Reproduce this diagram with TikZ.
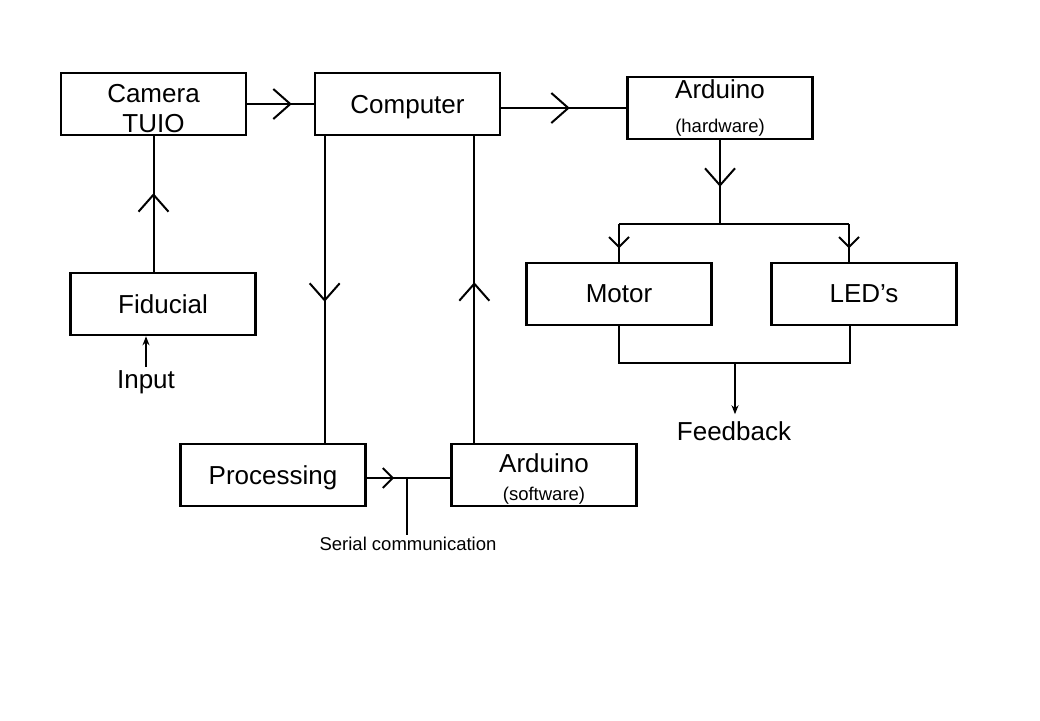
\documentclass[tikz,border=0pt]{standalone}
\usepackage{fontspec}
\setmainfont{Liberation Sans}
\usetikzlibrary{decorations.markings,arrows.meta}
\newcommand{\bigtxt}{\fontsize{26}{30}\selectfont}
\newcommand{\smalltxt}{\fontsize{18.5}{22}\selectfont}
\tikzset{
  box/.style={draw, line width=2.6pt, minimum width=185pt, minimum height=62pt, inner sep=0pt, align=center, font=\bigtxt},
  conn/.style={line width=2pt},
  vmark/.style={postaction={decorate},decoration={markings,mark=at position #1pt with {\draw[line width=2pt] (-17pt,-15pt) -- (0pt,0pt) -- (-17pt,15pt);}}},
  vsmall/.style={postaction={decorate},decoration={markings,mark=at position #1pt with {\draw[line width=2pt] (-10pt,-10pt) -- (0pt,0pt) -- (-10pt,10pt);}}},
  lbl/.style={inner sep=0pt, font=\bigtxt},
  slbl/.style={inner sep=0pt, font=\smalltxt},
  tip/.style={-{Stealth[length=9pt,width=7pt]}, line width=1.6pt}
}
\begin{document}
\begin{tikzpicture}[x=1pt,y=-1pt]
\useasboundingbox (0,0) rectangle (1040,720);
\fill[white] (0,0) rectangle (1040,720);
% boxes
\node[box] (cam) at (153.5,104) {\rule{0pt}{28pt}Camera\\[0pt]TUIO};
\node[box, text depth=0pt] (comp) at (407.5,104) {Computer};
\node[box] (ahw) at (720,108) {Arduino\\[4pt]{\smalltxt(hardware)}};
\node[box] (fid) at (163,304) {Fiducial};
\node[box] (motor) at (619,294) {Motor};
\node[box] (led) at (864,294) {LED’s};
\node[box, text depth=0pt] (proc) at (273,475) {Processing};
\node[box] (asw) at (544,475) {\rule{0pt}{26pt}Arduino\\[-2pt]{\smalltxt(software)}};
% labels
\node[lbl] (input) at (146,382) {Input};
\node[lbl] (feedback) at (734,431) {Feedback};
\node[slbl] (serial) at (408,544) {Serial communication};
% coordinates
\coordinate (j1) at (720,224);
\coordinate (jm) at (619,224);
\coordinate (jl) at (849,224);
\coordinate (fm) at (619,363);
\coordinate (fl) at (850,363);
\coordinate (fj) at (735,363);
\coordinate (sc) at (407,478);
% connectors
\draw[conn, vmark=43] (cam.east) -- (comp.west);
\draw[conn, vmark=67] (ahw.west -| comp.east) -- (ahw.west);
\draw[conn, vmark=45] (ahw.south) -- (j1);
\draw[conn] (jm) -- (jl);
\draw[conn, vsmall=23] (jm) -- (motor.north);
\draw[conn, vsmall=23] (jl) -- (jl |- led.north);
\draw[conn, vmark=77] (fid.north -| cam.south) -- (cam.south);
\draw[conn, vmark=164] ([xshift=11pt]comp.south west) -- ([xshift=11pt]comp.south west |- proc.north);
\draw[conn, vmark=159] ([xshift=-27pt]comp.south east |- asw.north) -- ([xshift=-27pt]comp.south east);
\draw[conn, vsmall=26] (proc.east |- sc) -- (sc);
\draw[conn] (sc) -- (sc -| asw.west);
\draw[conn] (sc) -- ([yshift=2pt]serial.north -| sc);
\draw[conn] (motor.south) -- (fm) -- (fl) -- (fl |- led.south);
\draw[tip] (fj) -- ([yshift=7pt]feedback.north -| fj);
\draw[tip] ([yshift=3pt]input.north) -- (input.north |- fid.south);
\end{tikzpicture}
\end{document}
